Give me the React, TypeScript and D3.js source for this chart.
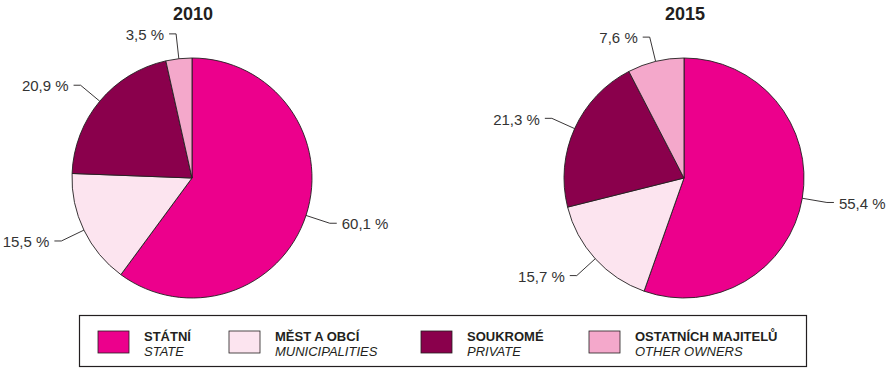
import React from "react";
import * as d3 from "d3";

const categoriesCz = ["STÁTNÍ", "MĚST A OBCÍ", "SOUKROMÉ", "OSTATNÍCH MAJITELŮ"];
const categoriesEn = ["STATE", "MUNICIPALITIES", "PRIVATE", "OTHER OWNERS"];
const years = ["2010", "2015"];
const values2010 = [60.1, 15.5, 20.9, 3.5];
const values2015 = [55.4, 15.7, 21.3, 7.6];
const colors = ["#EC008C", "#FCE4EF", "#8A004C", "#F4A8CB"];

const R = 120;
const FONT = "'Liberation Sans', Arial, Helvetica, sans-serif";
const fmt = (v: number) => v.toFixed(1).replace(".", ",") + " %";

function Pie({ cx, values, title }: { cx: number; values: number[]; title: string }) {
  const cy = 178;
  const pie = d3.pie<number>().sort(null).value((d) => d);
  const arcs = pie(values);
  const arc = d3.arc<d3.PieArcDatum<number>>().innerRadius(0).outerRadius(R);
  return (
    <g>
      <text x={cx + 1} y={19.5} textAnchor="middle" fontFamily={FONT} fontWeight="bold" fontSize={18} fill="#231F20">
        {title}
      </text>
      <g transform={`translate(${cx},${cy})`}>
        {arcs.map((a, i) => (
          <path key={i} d={arc(a) || ""} fill={colors[i]} stroke="#231F20" strokeWidth={0.9} strokeLinejoin="round" />
        ))}
        {arcs.map((a, i) => {
          const m = (a.startAngle + a.endAngle) / 2;
          const sx = Math.sin(m), sy = -Math.cos(m);
          const x0 = sx * R, y0 = sy * R;
          const x1 = sx * (R + 25), y1 = sy * (R + 25);
          const dir = sx >= 0 ? 1 : -1;
          const x2 = x1 + dir * 7;
          return (
            <g key={"l" + i}>
              <path d={`M${x0},${y0}L${x1},${y1}L${x2},${y1}`} fill="none" stroke="#231F20" strokeWidth={0.9} />
              <text
                x={x2 + dir * 5}
                y={y1 + 1}
                dy="0.35em"
                textAnchor={dir > 0 ? "start" : "end"}
                fontFamily={FONT}
                fontSize={15}
                fill="#333"
              >
                {fmt(values[i])}
              </text>
            </g>
          );
        })}
      </g>
    </g>
  );
}

export default function App() {
  const legendX = [98, 229, 421, 589];
  return (
    <svg width={891} height={370} style={{ position: "absolute", left: 0, top: 0, background: "#fff" }}>
      <Pie cx={192} values={values2010} title={years[0]} />
      <Pie cx={684} values={values2015} title={years[1]} />
      <rect x={79.5} y={315.5} width={727} height={51} fill="#fff" stroke="#231F20" strokeWidth={1.2} />
      {categoriesCz.map((c, i) => (
        <g key={i}>
          <rect x={legendX[i]} y={331} width={31} height={22} fill={colors[i]} stroke="#231F20" strokeWidth={0.8} />
          <text x={legendX[i] + 46} y={340.5} fontFamily={FONT} fontWeight="bold" fontSize={13} fill="#231F20">
            {c}
          </text>
          <text x={legendX[i] + 46} y={356} fontFamily={FONT} fontStyle="italic" fontSize={13} fill="#231F20">
            {categoriesEn[i]}
          </text>
        </g>
      ))}
    </svg>
  );
}
